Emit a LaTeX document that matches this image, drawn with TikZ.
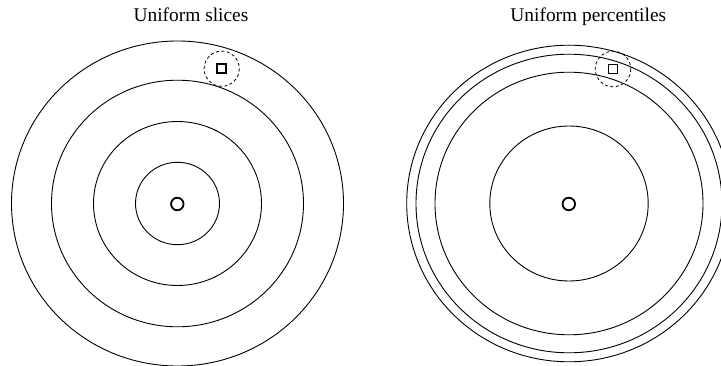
\documentclass[tikz,border=0pt]{standalone}
\usepackage{fontspec}
\setmainfont{Liberation Serif}
\usetikzlibrary{shapes.geometric}
\begin{document}
\begin{tikzpicture}[x=1pt,y=-1pt,
  ring/.style={draw=black,line width=0.9pt},
  dot/.style={draw=black,line width=1.8pt,circle,minimum size=12.5pt,inner sep=0pt},
  sq/.style={draw=black,line width=1.8pt,rectangle,minimum size=9pt,inner sep=0pt},
  halo/.style={draw=black,line width=0.8pt,dash pattern=on 3pt off 2.5pt},
  title/.style={font=\fontsize{19.4}{22}\selectfont,anchor=base,inner sep=0pt}]
\useasboundingbox (0,0) rectangle (721,366);
\clip (0,0) rectangle (721,366);
% left panel
\node[title] (tl) at (191,21.7) {Uniform slices};
\coordinate (cl) at (177.5,203.5);
\draw[ring] (cl) ellipse [x radius=42,y radius=41.2];
\draw[ring] (cl) ellipse [x radius=84,y radius=82];
\draw[ring] (cl) ellipse [x radius=126,y radius=123.3];
\draw[ring] (cl) ellipse [x radius=166,y radius=162.5];
\node[dot] (dl) at (177.3,204) {};
\node[sq] (sl) at (221.7,68.7) {};
\draw[halo] (sl) circle [radius=17.6];
% right panel
\node[title] (tr) at (588.3,21.7) {Uniform percentiles};
\coordinate (cr) at (569,203.5);
\draw[ring] (cr) ellipse [x radius=79.2,y radius=77.5];
\draw[ring] (cr) ellipse [x radius=134,y radius=131.3];
\draw[ring] (cr) ellipse [x radius=153,y radius=149.3];
\draw[ring] (cr) ellipse [x radius=162.3,y radius=158.3];
\node[dot] (dr) at (568.8,204) {};
\node[sq] (sr) at (613,69) {};
\draw[halo] (sr) circle [radius=17.8];
\end{tikzpicture}
\end{document}
